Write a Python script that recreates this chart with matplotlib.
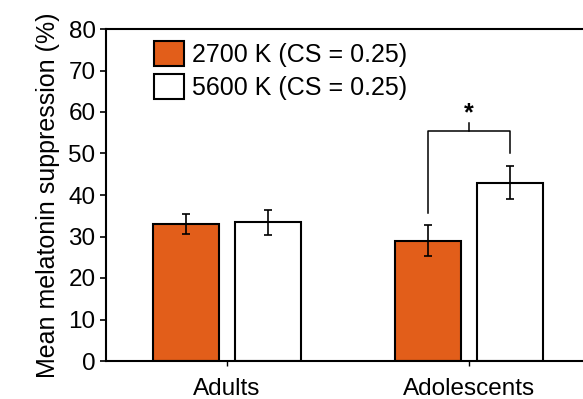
import matplotlib
matplotlib.use("Agg")
import matplotlib.pyplot as plt
import numpy as np
from matplotlib.patches import Patch

groups = ["Adults", "Adolescents"]
series_labels = ["2700 K (CS = 0.25)", "5600 K (CS = 0.25)"]
vals_2700 = [33.0, 29.0]
err_2700 = [2.4, 3.7]
vals_5600 = [33.4, 43.0]
err_5600 = [3.0, 3.9]
yticks = [0, 10, 20, 30, 40, 50, 60, 70, 80]

orange = "#E25E1A"
plt.rcParams['font.family'] = ['Liberation Sans', 'DejaVu Sans']

fig = plt.figure(figsize=(5.83, 3.99), dpi=100)
ax = fig.add_axes([106/583, 38/399, 484/583, 332/399])

x = np.arange(len(groups))
off = 0.17
w = 0.27
ekw = dict(elinewidth=1.2, capthick=1.2, ecolor="black")
ax.bar(x - off, vals_2700, w, color=orange, edgecolor="black", linewidth=1.5,
       yerr=err_2700, capsize=3, error_kw=ekw, zorder=2)
ax.bar(x + off, vals_5600, w, color="white", edgecolor="black", linewidth=1.5,
       yerr=err_5600, capsize=3, error_kw=ekw, zorder=2)

# significance bracket
i = 1
yb = 55.5
ax.plot([x[i] - off, x[i] - off, x[i] + off, x[i] + off],
        [35.6, yb, yb, 50.2], color="black", lw=1.1)
ax.plot([x[i], x[i]], [yb, 57.4], color="black", lw=1.1)
ax.text(x[i], 59.6, "*", ha="center", va="center", fontsize=18, fontweight="bold")

ax.set_xlim(-0.5, 1.5)
ax.set_ylim(0, 80)
ax.set_yticks(yticks)
ax.set_xticks(x)
ax.set_xticklabels(groups, fontsize=17.5)
ax.tick_params(axis="y", labelsize=17.5, length=4.5, width=1.2, direction="out", pad=3)
ax.tick_params(axis="x", length=3.5, width=1.0, direction="out", pad=9)
for s in ax.spines.values():
    s.set_linewidth(1.5)
ax.set_ylabel("Mean melatonin suppression (%)", fontsize=18, labelpad=6)

handles = [Patch(facecolor=orange, edgecolor="black", linewidth=1.5),
           Patch(facecolor="white", edgecolor="black", linewidth=1.5)]
fig.legend(handles, series_labels, loc="upper left",
           bbox_to_anchor=(154/583, 1 - 41/399), frameon=False, fontsize=18,
           handlelength=1.2, handleheight=1.16, handletextpad=0.3,
           labelspacing=0.3, borderpad=0, borderaxespad=0)

fig.savefig("out.png", dpi=100)
